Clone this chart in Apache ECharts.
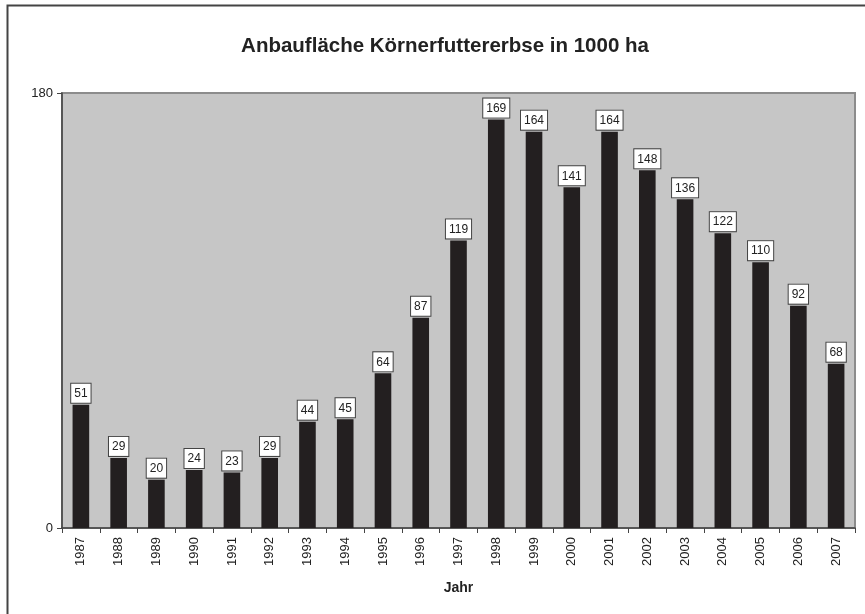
<!DOCTYPE html>
<html>
<head>
<meta charset="utf-8">
<script src="https://cdn.jsdelivr.net/npm/echarts@6/dist/echarts.min.js"></script>
<style>html,body{margin:0;padding:0;background:#fff}#c{width:865px;height:614px}</style>
</head>
<body>
<div id="c"></div>
<script>
var years = ['1987','1988','1989','1990','1991','1992','1993','1994','1995','1996','1997','1998','1999','2000','2001','2002','2003','2004','2005','2006','2007'];
var area = [51,29,20,24,23,29,44,45,64,87,119,169,164,141,164,148,136,122,110,92,68];
var yTicks = [0, 180];

var chart = echarts.init(document.getElementById('c'), null, {renderer: 'canvas'});
chart.setOption({
  animation: false,
  backgroundColor: '#fff',
  title: {
    text: 'Anbaufläche Körnerfuttererbse in 1000 ha',
    left: 440, top: 31, textAlign: 'center',
    textStyle: {fontFamily: 'Liberation Sans, Arial', fontSize: 20.5, fontWeight: 'bold', color: '#222'}
  },
  graphic: [{
    type: 'rect', left: 5, top: 3, z: -1,
    shape: {width: 900, height: 700},
    style: {fill: 'none', stroke: '#444', lineWidth: 2}
  }],
  grid: {
    left: 62, top: 93, right: 10, bottom: 86,
    show: true, backgroundColor: '#c6c6c6', borderColor: '#8c8c8c', borderWidth: 2
  },
  xAxis: {
    type: 'category', data: years,
    name: 'Jahr', nameLocation: 'middle', nameGap: 53,
    nameTextStyle: {fontFamily: 'Liberation Sans, Arial', fontSize: 14, fontWeight: 'bold', color: '#222'},
    axisLine: {lineStyle: {color: '#444', width: 1.5}},
    axisTick: {show: true, length: 5, lineStyle: {color: '#444'}},
    axisLabel: {rotate: 90, fontFamily: 'Liberation Sans, Arial', fontSize: 13, color: '#222', margin: 9}
  },
  yAxis: {
    type: 'value', min: yTicks[0], max: yTicks[1], interval: 180,
    axisLine: {show: true, lineStyle: {color: '#444', width: 1.5}},
    axisTick: {show: true, length: 5, lineStyle: {color: '#444'}},
    splitLine: {show: false},
    axisLabel: {fontFamily: 'Liberation Sans, Arial', fontSize: 13, color: '#222', margin: 9}
  },
  series: [{
    type: 'bar', data: area, barWidth: '44%',
    itemStyle: {color: '#231f20'},
    label: {
      show: true, position: 'top', distance: 2,
      fontFamily: 'Liberation Sans, Arial', fontSize: 12, color: '#222',
      backgroundColor: '#fff', borderColor: '#444', borderWidth: 1,
      padding: [4, 3, 3, 3]
    }
  }]
});
</script>
</body>
</html>
